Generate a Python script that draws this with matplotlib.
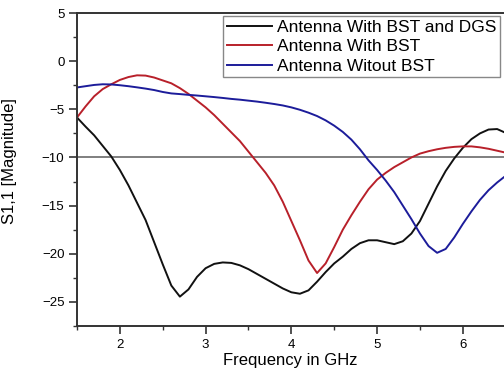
import matplotlib
matplotlib.use("Agg")
import matplotlib.pyplot as plt
from matplotlib.ticker import MultipleLocator
import numpy as np

plt.rcParams['font.family'] = ['Liberation Sans', 'DejaVu Sans']

# frequency grid (GHz)
freq = np.round(np.arange(1.5, 6.51, 0.1), 2)

# S11 values (dB) at each frequency
s11_bst_dgs = [-5.85, -6.8, -7.7, -8.8, -9.9, -11.3, -12.9, -14.7, -16.5, -18.8,
               -21.1, -23.3, -24.45, -23.7, -22.4, -21.5, -21.05, -20.9, -20.95, -21.2,
               -21.6, -22.1, -22.6, -23.1, -23.6, -24.0, -24.15, -23.8, -22.9, -21.9,
               -21.0, -20.3, -19.5, -18.9, -18.6, -18.6, -18.8, -19.0, -18.7, -17.9,
               -16.6, -14.8, -13.0, -11.4, -10.1, -9.0, -8.1, -7.5, -7.1, -7.05,
               -7.45]
s11_bst = [-5.85, -4.7, -3.65, -2.9, -2.4, -1.95, -1.65, -1.47, -1.5, -1.7,
           -2.0, -2.3, -2.8, -3.4, -4.1, -4.8, -5.6, -6.5, -7.4, -8.3,
           -9.4, -10.5, -11.6, -12.9, -14.6, -16.6, -18.6, -20.7, -22.0, -21.0,
           -19.3, -17.5, -16.0, -14.6, -13.3, -12.3, -11.6, -11.0, -10.5, -10.0,
           -9.6, -9.35, -9.15, -9.0, -8.9, -8.85, -8.85, -8.95, -9.1, -9.3,
           -9.5]
s11_no_bst = [-2.73, -2.6, -2.47, -2.4, -2.42, -2.5, -2.6, -2.72, -2.85, -3.0,
              -3.2, -3.35, -3.42, -3.5, -3.57, -3.65, -3.73, -3.82, -3.92, -4.0,
              -4.1, -4.2, -4.32, -4.45, -4.6, -4.8, -5.05, -5.35, -5.7, -6.15,
              -6.7, -7.35, -8.15, -9.15, -10.3, -11.3, -12.4, -13.6, -15.0, -16.4,
              -17.9, -19.2, -19.9, -19.5, -18.3, -16.9, -15.6, -14.4, -13.4, -12.6,
              -11.9]

labels = ['Antenna With BST and DGS', 'Antenna With BST', 'Antenna Witout BST']
colors = ['#111111', '#b8202a', '#1c1c9a']

fig = plt.figure(figsize=(5.04, 3.76), dpi=100)
ax = fig.add_axes([77/504, 50/376, 1 - 77/504, 313/376])

ax.axhline(-10, color='#7f7f7f', lw=1.4, zorder=1)
for ys, lab, col in zip([s11_bst_dgs, s11_bst, s11_no_bst], labels, colors):
    ax.plot(freq, ys, color=col, lw=1.4, label=lab, zorder=2)

ax.set_xlim(1.5, 6.48)
ax.set_ylim(-27.5, 5)
ax.xaxis.set_major_locator(MultipleLocator(1))
ax.xaxis.set_minor_locator(MultipleLocator(0.5))
ax.yaxis.set_major_locator(MultipleLocator(5))
ax.yaxis.set_minor_locator(MultipleLocator(2.5))

for side in ['left', 'bottom', 'top']:
    ax.spines[side].set_color('#333333')
    ax.spines[side].set_linewidth(1.4)
ax.spines['right'].set_visible(False)

ax.tick_params(which='major', direction='out', length=6, width=1.2,
               color='#333333', labelsize=9.5, pad=3)
ax.tick_params(which='minor', direction='out', length=3, width=1.0,
               color='#333333')

ax.set_xlabel('Frequency in GHz', fontsize=12)
ax.set_ylabel('S1,1 [Magnitude]', fontsize=12)
ax.xaxis.set_label_coords(0.5, -0.085)
ax.yaxis.set_label_coords(-0.14, 0.527)

leg = ax.legend(loc='upper right', bbox_to_anchor=(500/504, 1 - 16/376),
                bbox_transform=fig.transFigure, borderaxespad=0,
                fontsize=12.5, labelspacing=0.25, borderpad=0.2,
                handlelength=2.6, handletextpad=0.3, fancybox=False,
                framealpha=1)
leg.get_frame().set_edgecolor('#888888')
leg.get_frame().set_linewidth(1.0)

fig.savefig('out.png', dpi=100)
